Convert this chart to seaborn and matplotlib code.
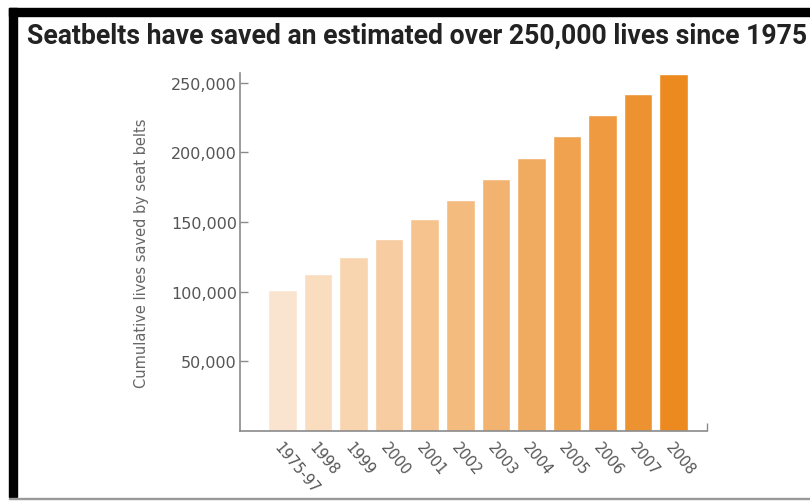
import matplotlib
matplotlib.use("Agg")
import matplotlib.pyplot as plt
import matplotlib.patches as mpatches
import pandas as pd
import seaborn as sns

# data
years = ["1975-97", "1998", "1999", "2000", "2001", "2002",
         "2003", "2004", "2005", "2006", "2007", "2008"]
lives_saved = [101000, 113000, 125000, 138000, 152000, 166000,
               181000, 196000, 212000, 227000, 242000, 256000]
y_ticks = [50000, 100000, 150000, 200000, 250000]

title = "Seatbelts have saved an estimated over 250,000 lives since 1975"
y_label = "Cumulative lives saved by seat belts"


def main():
    sns.set_style("white")
    df = pd.DataFrame({"year": years, "lives": lives_saved})
    colors = sns.blend_palette(["#fbe4cf", "#ec8a20"], n_colors=len(years))

    fig = plt.figure(figsize=(8.1, 5.02), dpi=100)
    ax = fig.add_axes([0.296, 0.139, 0.577, 0.714])

    sns.barplot(data=df, x="year", y="lives", hue="year", palette=colors,
                legend=False, width=0.8, saturation=1, ax=ax)

    ax.set_xlim(-1.2, 11.94)
    ax.set_ylim(0, 257000)
    ax.set_yticks(y_ticks)
    ax.set_yticklabels([f"{v:,}" for v in y_ticks])
    ax.set_xticks(range(len(years)))
    ax.set_xticklabels(years, rotation=-50, ha="left", va="top",
                       rotation_mode="anchor")
    ax.set_xlabel("")
    ax.set_ylabel(y_label, fontsize=10.5, color="#666", family="DejaVu Sans",
                  labelpad=16)

    sns.despine(ax=ax)
    for s in ["left", "bottom"]:
        ax.spines[s].set_color("#8a8a8a")
        ax.spines[s].set_linewidth(1.2)
    ax.tick_params(axis="y", direction="in", length=6, width=1, color="#8a8a8a",
                   labelsize=11.5, labelcolor="#555", pad=2, left=True)
    ax.tick_params(axis="x", length=0, labelsize=10.5, labelcolor="#555", pad=6)
    for lab in ax.get_xticklabels() + ax.get_yticklabels():
        lab.set_family("DejaVu Sans")
    # small upward tick at the right end of the x axis
    ax.set_xticks([11.94], minor=True)
    ax.tick_params(axis="x", which="minor", direction="in", length=6,
                   width=1, color="#8a8a8a", bottom=True)

    fig.text(0.033, 0.928, title, fontsize=19.2, fontweight="bold",
             family="Roboto", color="#222", va="center", ha="left")

    # frame of the screenshot
    W, H = 810, 502
    fig.patches.append(mpatches.Rectangle((9 / W, 1 - 17 / H), 1, 8 / H,
                                          transform=fig.transFigure,
                                          color="black", zorder=10))
    fig.patches.append(mpatches.Rectangle((9 / W, 1 - 498 / H), 8 / W, 489 / H,
                                          transform=fig.transFigure,
                                          color="black", zorder=10))
    fig.patches.append(mpatches.Rectangle((9 / W, 1 - 500 / H), 1, 1.5 / H,
                                          transform=fig.transFigure,
                                          color="#999", zorder=10))

    fig.savefig("out.png", dpi=100)


if __name__ == "__main__":
    main()
